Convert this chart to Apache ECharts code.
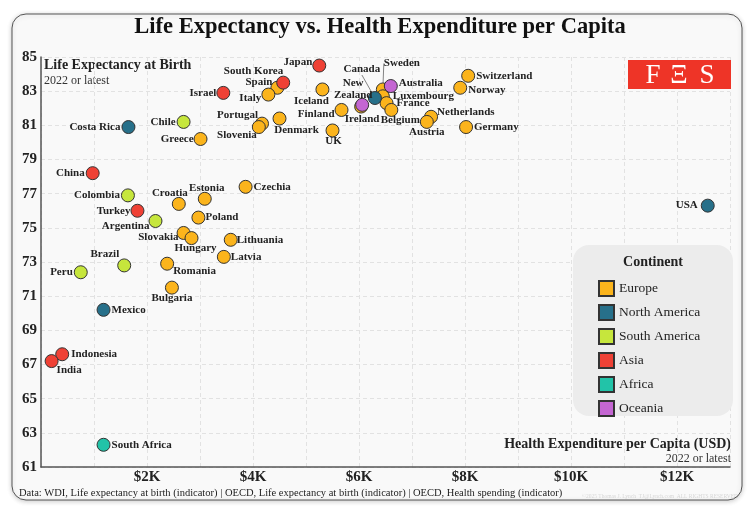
<!DOCTYPE html>
<html>
<head>
<meta charset="utf-8">
<title>Life Expectancy vs. Health Expenditure per Capita</title>
<script src="https://cdn.jsdelivr.net/npm/echarts@6/dist/echarts.min.js"></script>
<style>
  html, body { margin: 0; padding: 0; background: #fff; }
  #chart { width: 749px; height: 509px; }
</style>
</head>
<body>
<div id="chart"></div>
<script>
// data: spending in USD per capita, life expectancy in years
var countries = ['Japan', 'South Korea', 'Spain', 'Italy', 'Israel', 'Iceland', 'Canada', 'New Zealand',
  'Ireland', 'Finland', 'Portugal', 'Slovenia', 'Denmark', 'UK', 'Chile', 'Greece', 'Costa Rica',
  'China', 'Colombia', 'Turkey', 'Argentina', 'Croatia', 'Estonia', 'Poland', 'Czechia', 'Slovakia',
  'Hungary', 'Lithuania', 'Latvia', 'Romania', 'Bulgaria', 'Brazil', 'Peru', 'Mexico', 'Indonesia',
  'India', 'South Africa', 'Sweden', 'Australia', 'Luxembourg', 'France', 'Belgium', 'Netherlands',
  'Austria', 'Switzerland', 'Norway', 'Germany', 'USA'];
var spending = [5250, 4570, 4460, 4290, 3440, 5310, 6300, 6060,
  6040, 5670, 4170, 4110, 4500, 5500, 2690, 3010, 1650,
  975, 1640, 1820, 2160, 2600, 3090, 2970, 3860, 2690,
  2840, 3580, 3450, 2380, 2470, 1570, 750, 1180, 400,
  200, 1180, 6450, 6600, 6450, 6520, 6610, 7360,
  7280, 8060, 7910, 8020, 12580];
var lifeExp = [84.5, 83.5, 83.2, 82.8, 82.9, 83.1, 82.6, 82.2,
  82.1, 81.9, 81.1, 80.9, 81.4, 80.7, 81.2, 80.2, 80.9,
  78.2, 76.9, 76.0, 75.4, 76.4, 76.7, 75.6, 77.4, 74.7,
  74.4, 74.3, 73.3, 72.9, 71.5, 72.8, 72.4, 70.2, 67.6,
  67.2, 62.3, 83.1, 83.3, 82.7, 82.3, 81.9, 81.5,
  81.2, 83.9, 83.2, 80.9, 76.3];
var continentOf = ['Asia', 'Asia', 'Europe', 'Europe', 'Asia', 'Europe', 'North America', 'Oceania',
  'Europe', 'Europe', 'Europe', 'Europe', 'Europe', 'Europe', 'South America', 'Europe', 'North America',
  'Asia', 'South America', 'Asia', 'South America', 'Europe', 'Europe', 'Europe', 'Europe', 'Europe',
  'Europe', 'Europe', 'Europe', 'Europe', 'Europe', 'South America', 'South America', 'North America', 'Asia',
  'Asia', 'Africa', 'Europe', 'Oceania', 'Europe', 'Europe', 'Europe', 'Europe',
  'Europe', 'Europe', 'Europe', 'Europe', 'North America'];
var continents = ['Europe', 'North America', 'South America', 'Asia', 'Africa', 'Oceania'];
var yTicks = [61, 63, 65, 67, 69, 71, 73, 75, 77, 79, 81, 83, 85];
var xTicks = [2000, 4000, 6000, 8000, 10000, 12000];

// styling
var colors = ['#fbb41c', '#27708a', '#c6e63c', '#ef4135', '#22c3a8', '#c466d2'];
var serif = 'Liberation Serif';
// label side and nudge for each point: [position, dx, dy]
var labelPlace = {
  'Japan': ['left', 3, -3], 'South Korea': ['left', 10, -11], 'Spain': ['left', 5, -6],
  'Italy': ['left', 3, 4], 'Israel': ['left', 3, 0], 'Iceland': ['bottom', -11, -4],
  'Canada': ['top', -13, -13], 'New Zealand': ['top', -9, 6], 'Ireland': ['bottom', 1, -3],
  'Finland': ['left', 3, 4], 'Portugal': ['left', 6, -8], 'Slovenia': ['left', 8, 8],
  'Denmark': ['bottom', 17, -4], 'UK': ['bottom', 1, -5], 'Chile': ['left', 2, 0],
  'Greece': ['left', 3, 0], 'Costa Rica': ['left', 2, 0], 'China': ['left', 2, 0],
  'Colombia': ['left', 2, 0], 'Turkey': ['left', 3, 0], 'Argentina': ['left', 4, 5],
  'Croatia': ['top', -9, 5], 'Estonia': ['top', 2, 5], 'Poland': ['right', -3, 0],
  'Czechia': ['right', -2, 0], 'Slovakia': ['left', 5, 4], 'Hungary': ['bottom', 4, -6],
  'Lithuania': ['right', -4, 0], 'Latvia': ['right', -3, 0], 'Romania': ['right', -4, 7],
  'Bulgaria': ['bottom', 0, -5], 'Brazil': ['left', 5, -11], 'Peru': ['left', 2, 0],
  'Mexico': ['right', -2, 0], 'Indonesia': ['right', -1, 0], 'India': ['right', -5, 9],
  'South Africa': ['right', -2, 0], 'Sweden': ['top', 19, -10], 'Australia': ['right', -2, -3],
  'Luxembourg': ['right', 0, 0], 'France': ['right', 0, 0], 'Belgium': ['bottom', 9, -6],
  'Netherlands': ['right', -4, -5], 'Austria': ['bottom', 0, -6], 'Switzerland': ['right', -2, 0],
  'Norway': ['right', -2, 2], 'Germany': ['right', -2, 0], 'USA': ['left', 0, 0]
};
// labels joined to their point by a guide line
var withLeader = ['Canada', 'Sweden'];

var series = continents.map(function (c, ci) {
  var pts = [];
  countries.forEach(function (name, i) {
    if (continentOf[i] !== c) return;
    var item = {
      name: name,
      value: [spending[i], lifeExp[i]],
      label: { position: labelPlace[name][0] }
    };
    if (name === 'New Zealand') {
      item.label.formatter = 'New\nZealand';
      item.label.align = 'center';
    }
    if (withLeader.indexOf(name) >= 0) {
      item.labelLine = { show: true, lineStyle: { color: '#666', width: 0.8 } };
    }
    pts.push(item);
  });
  return {
    name: c,
    type: 'scatter',
    data: pts,
    symbolSize: 13,
    z: ci === 0 ? 2 : 3,
    itemStyle: { color: colors[ci], borderColor: '#333', borderWidth: 1, opacity: 1 },
    label: {
      show: true,
      formatter: '{b}',
      distance: 3,
      fontFamily: serif,
      fontWeight: 'bold',
      fontSize: 11,
      lineHeight: 12,
      color: '#222'
    },
    labelLayout: function (params) {
      var d = series[params.seriesIndex].data[params.dataIndex];
      var p = labelPlace[d.name];
      return { dx: p[1], dy: p[2] };
    },
    emphasis: { disabled: true }
  };
});

var chart = echarts.init(document.getElementById('chart'));
chart.setOption({
  backgroundColor: '#fff',
  animation: false,
  grid: { left: 41, right: 19, top: 57, bottom: 42, containLabel: false, outerBoundsMode: 'none' },
  xAxis: {
    type: 'value',
    min: 0,
    max: 13000,
    interval: 1000,
    axisLine: { show: true, lineStyle: { color: '#555', width: 1.5 } },
    axisTick: { show: false },
    axisLabel: {
      margin: 3,
      fontFamily: serif,
      fontWeight: 'bold',
      fontSize: 15,
      color: '#222',
      formatter: function (v) {
        return xTicks.indexOf(v) >= 0 ? '$' + (v / 1000) + 'K' : '';
      }
    },
    splitLine: { show: true, lineStyle: { color: '#e2e2e2', type: [4, 3], width: 1 } }
  },
  yAxis: {
    type: 'value',
    min: 61,
    max: 85,
    interval: 1,
    axisLine: { show: true, lineStyle: { color: '#555', width: 1.5 } },
    axisTick: { show: false },
    axisLabel: {
      margin: 4,
      fontFamily: serif,
      fontWeight: 'bold',
      fontSize: 15,
      color: '#222',
      formatter: function (v) {
        return yTicks.indexOf(v) >= 0 ? String(v) : '';
      }
    },
    splitLine: {
      show: true,
      lineStyle: { color: ['#e2e2e2', 'rgba(0,0,0,0)'], type: [4, 3], width: 1 }
    }
  },
  legend: {
    data: continents,
    orient: 'vertical',
    left: 593,
    top: 275,
    icon: 'rect',
    itemWidth: 15,
    itemHeight: 15,
    itemGap: 7,
    selectedMode: false,
    textStyle: { fontFamily: serif, fontSize: 13.5, color: '#222', padding: [0, 0, 0, 0] }
  },
  graphic: [
    {
      type: 'rect', z: -10, silent: true,
      shape: { x: 12, y: 14, width: 730, height: 486, r: 14 },
      style: { fill: '#f9f9f9', stroke: '#555', lineWidth: 1, shadowBlur: 5, shadowColor: 'rgba(0,0,0,0.2)', shadowOffsetY: 1 }
    },
    {
      type: 'text', x: 380, y: 27, silent: true,
      style: { text: 'Life Expectancy vs. Health Expenditure per Capita', fontFamily: serif, fontWeight: 'bold', fontSize: 22.5, fill: '#111', align: 'center', verticalAlign: 'middle' }
    },
    {
      type: 'text', x: 44, y: 65, silent: true,
      style: { text: 'Life Expectancy at Birth', fontFamily: serif, fontWeight: 'bold', fontSize: 14, fill: '#222', verticalAlign: 'middle' }
    },
    {
      type: 'text', x: 44, y: 81, silent: true,
      style: { text: '2022 or latest', fontFamily: serif, fontSize: 12, fill: '#333', verticalAlign: 'middle' }
    },
    {
      type: 'text', x: 731, y: 444, silent: true,
      style: { text: 'Health Expenditure per Capita (USD)', fontFamily: serif, fontWeight: 'bold', fontSize: 14, fill: '#222', align: 'right', verticalAlign: 'middle' }
    },
    {
      type: 'text', x: 731, y: 459, silent: true,
      style: { text: '2022 or latest', fontFamily: serif, fontSize: 12, fill: '#333', align: 'right', verticalAlign: 'middle' }
    },
    {
      type: 'rect', z: 1, silent: true,
      shape: { x: 573, y: 245, width: 160, height: 171, r: 16 },
      style: { fill: '#ececec' }
    },
    {
      type: 'text', x: 653, y: 262, z: 2, silent: true,
      style: { text: 'Continent', fontFamily: serif, fontWeight: 'bold', fontSize: 14, fill: '#222', align: 'center', verticalAlign: 'middle' }
    },
    {
      type: 'rect', z: 1, silent: true,
      shape: { x: 628, y: 60, width: 103, height: 29 },
      style: { fill: '#ee3427' }
    },
    {
      type: 'text', x: 653, y: 76, z: 2, silent: true,
      style: { text: 'F', fontFamily: serif, fontSize: 27, fill: '#fff', align: 'center', verticalAlign: 'middle' }
    },
    {
      type: 'text', x: 679, y: 76, z: 2, silent: true,
      style: { text: 'Ξ', fontFamily: serif, fontSize: 27, fill: '#fff', align: 'center', verticalAlign: 'middle' }
    },
    {
      type: 'text', x: 707, y: 76, z: 2, silent: true,
      style: { text: 'S', fontFamily: serif, fontSize: 27, fill: '#fff', align: 'center', verticalAlign: 'middle' }
    },
    {
      type: 'text', x: 19, y: 493, silent: true,
      style: { text: 'Data: WDI, Life expectancy at birth (indicator) | OECD, Life expectancy at birth (indicator) | OECD, Health spending (indicator)', fontFamily: serif, fontSize: 10.5, fill: '#222', verticalAlign: 'middle' }
    },
    {
      type: 'text', x: 738, y: 497, silent: true,
      style: { text: '©2025 Thomas J. Lynch  TJ@Lynch.com  ALL RIGHTS RESERVED', fontFamily: serif, fontSize: 5.5, fill: 'rgba(0,0,0,0.15)', align: 'right', verticalAlign: 'middle' }
    }
  ],
  series: series
});
</script>
</body>
</html>
